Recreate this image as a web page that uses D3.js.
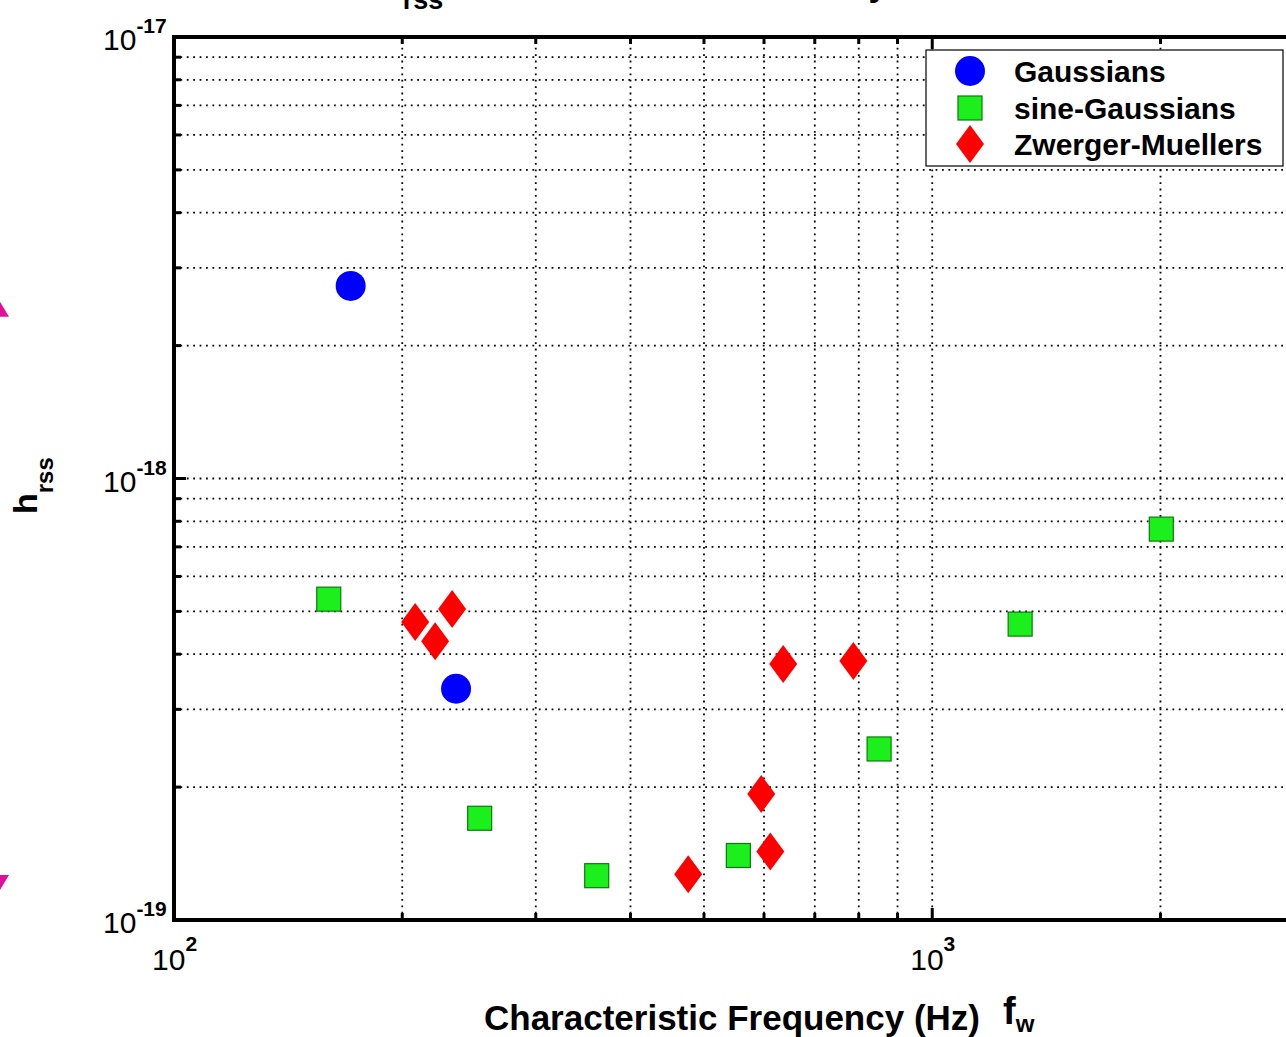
<!DOCTYPE html>
<html>
<head>
<meta charset="utf-8">
<script src="https://cdn.jsdelivr.net/npm/d3@7"></script>
<style>
  html, body { margin: 0; padding: 0; background: #fff; overflow: hidden; }
  text { font-family: "Liberation Sans", Arial, sans-serif; fill: #000; }
</style>
</head>
<body>
<div id="chart"></div>
<script>
// data (frequency in Hz, h_rss)
const gaussF = [171, 235.5];
const gaussH = [2.73e-18, 3.34e-19];

const sineF = [160, 253, 361, 555, 851, 1306, 2005];
const sineH = [5.33e-19, 1.70e-19, 1.26e-19, 1.40e-19, 2.44e-19, 4.68e-19, 7.68e-19];

const zmF = [208, 221, 232.7, 476.6, 595, 611.6, 636, 787];
const zmH = [4.73e-19, 4.28e-19, 5.06e-19, 1.27e-19, 1.93e-19, 1.43e-19, 3.80e-19, 3.86e-19];

const seriesNames = ['Gaussians', 'sine-Gaussians', 'Zwerger-Muellers'];
const xMajor = [100, 1000];
const yMajor = [1e-19, 1e-18, 1e-17];
const xLabels = [['10', '2'], ['10', '3']];
const yLabels = [['10', '-19'], ['10', '-18'], ['10', '-17']];

const width = 1286, height = 1037;
const margin = {top: 37, left: 174, bottom: 117};

const svg = d3.select('#chart').append('svg')
    .attr('width', width)
    .attr('height', height);

let x = d3.scaleLog()
    .domain([100, 3000])
    .range([margin.left, 1294]);

let y = d3.scaleLog()
    .domain([1e-19, 1e-17])
    .range([height - margin.bottom, margin.top]);

const x0 = x.range()[0], x1 = x.range()[1];
const y0 = y.range()[0], y1 = y.range()[1];

// minor + major positions
let xAll = [];
for (let d = 100; d <= 3000; d *= 10) {
  for (let k = 1; k <= 9; k++) if (d * k <= 3000) xAll.push(d * k);
}
let yAll = [];
for (let d = 1e-19; d < 1e-17 * 1.01; d *= 10) {
  for (let k = 1; k <= 9; k++) if (d * k <= 1e-17 * 1.01) yAll.push(d * k);
}
const isMajorX = v => xMajor.some(m => Math.abs(v - m) < 1e-6);
const isMajorY = v => yMajor.some(m => Math.abs(v / m - 1) < 1e-6);

// dotted grid
const grid = svg.append('g')
    .attr('stroke', '#000')
    .attr('stroke-width', 1.8)
    .attr('stroke-dasharray', '1.8,4.6');

grid.selectAll('line.gx')
  .data(xAll.filter(v => v > 100))
  .enter().append('line')
    .attr('class', 'gx')
    .attr('x1', d => x(d)).attr('x2', d => x(d))
    .attr('y1', y0).attr('y2', y1);

grid.selectAll('line.gy')
  .data(yAll.filter(v => v > 1.01e-19 && v < 0.99e-17))
  .enter().append('line')
    .attr('class', 'gy')
    .attr('x1', x0).attr('x2', x1)
    .attr('y1', d => y(d)).attr('y2', d => y(d));

// tick marks pointing inward
const ticks = svg.append('g').attr('stroke', '#000').attr('stroke-width', 3);
ticks.selectAll('line.tb')
  .data(xAll)
  .enter().append('line')
    .attr('x1', d => x(d)).attr('x2', d => x(d))
    .attr('y1', y0).attr('y2', d => y0 - (isMajorX(d) ? 12 : 7));
ticks.selectAll('line.tt')
  .data(xAll)
  .enter().append('line')
    .attr('x1', d => x(d)).attr('x2', d => x(d))
    .attr('y1', y1).attr('y2', d => y1 + (isMajorX(d) ? 12 : 7));
ticks.selectAll('line.tl')
  .data(yAll)
  .enter().append('line')
    .attr('y1', d => y(d)).attr('y2', d => y(d))
    .attr('x1', x0).attr('x2', d => x0 + (isMajorY(d) ? 12 : 7));

// axes box
svg.append('path')
    .attr('d', `M${x1},${y1}H${x0}V${y0}H${x1}`)
    .attr('fill', 'none')
    .attr('stroke', '#000')
    .attr('stroke-width', 4);

// tick labels
svg.selectAll('text.xl')
  .data(xMajor)
  .enter().append('text')
    .attr('x', d => x(d) - 22)
    .attr('y', y0 + 50)
    .style('font-size', '30px')
    .each(function(d, i) {
      const t = d3.select(this);
      t.append('tspan').text(xLabels[i][0]);
      t.append('tspan').attr('dy', -19).style('font-size', '21px').style('font-weight', 'bold').text(xLabels[i][1]);
    });

svg.selectAll('text.yl')
  .data(yMajor)
  .enter().append('text')
    .attr('x', 103)
    .attr('y', d => y(d) + 13)
    .style('font-size', '30px')
    .each(function(d, i) {
      const t = d3.select(this);
      t.append('tspan').text(yLabels[i][0]);
      t.append('tspan').attr('dy', -17).style('font-size', '21px').style('font-weight', 'bold').text(yLabels[i][1]);
    });

// axis titles
svg.append('text')
    .attr('x', 484)
    .attr('y', 1030)
    .style('font-size', '35px')
    .style('font-weight', 'bold')
    .text('Characteristic Frequency (Hz)');

svg.append('text')
    .attr('x', 1003)
    .attr('y', 1024)
    .style('font-size', '38px')
    .style('font-weight', 'bold')
    .call(t => {
      t.append('tspan').text('f');
      t.append('tspan').attr('dy', 8).style('font-size', '24px').text('w');
    });

svg.append('text')
    .attr('transform', 'translate(37,514) rotate(-90)')
    .style('font-size', '34px')
    .style('font-weight', 'bold')
    .call(t => {
      t.append('tspan').text('h');
      t.append('tspan').attr('dy', 16).style('font-size', '24px').text('rss');
    });

// title, mostly above the visible area
svg.append('text')
    .attr('x', 382)
    .attr('y', -4)
    .style('font-size', '34px')
    .style('font-weight', 'bold')
    .call(t => {
      t.append('tspan').text('h');
      t.append('tspan').attr('dy', 13).style('font-size', '27px').text('rss');
      t.append('tspan').attr('dy', -13).text(' at 50% detection efficiency');
    });

// markers
const diamond = 'M0,-19L14,0L0,19L-14,0Z';

svg.append('g').selectAll('rect')
  .data(d3.zip(sineF, sineH))
  .enter().append('rect')
    .attr('x', d => x(d[0]) - 12)
    .attr('y', d => y(d[1]) - 12)
    .attr('width', 24).attr('height', 24)
    .attr('fill', '#1cf01c')
    .attr('stroke', '#0a7a0a')
    .attr('stroke-width', 1.2);

svg.append('g').selectAll('path')
  .data(d3.zip(zmF, zmH))
  .enter().append('path')
    .attr('transform', d => `translate(${x(d[0])},${y(d[1])})`)
    .attr('d', diamond)
    .attr('fill', '#ff0000');

svg.append('g').selectAll('circle')
  .data(d3.zip(gaussF, gaussH))
  .enter().append('circle')
    .attr('cx', d => x(d[0]))
    .attr('cy', d => y(d[1]))
    .attr('r', 15)
    .attr('fill', '#0000ff');

// legend
const lg = svg.append('g').attr('transform', 'translate(926,50)');
lg.append('rect')
    .attr('width', 357).attr('height', 116)
    .attr('fill', '#fff')
    .attr('stroke', '#000')
    .attr('stroke-width', 1.2);
const rowY = [21, 58, 94];
lg.append('circle').attr('cx', 44).attr('cy', rowY[0]).attr('r', 15).attr('fill', '#0000ff');
lg.append('rect').attr('x', 32).attr('y', rowY[1] - 12).attr('width', 24).attr('height', 24)
    .attr('fill', '#1cf01c').attr('stroke', '#0a7a0a').attr('stroke-width', 1.2);
lg.append('path').attr('transform', `translate(44,${rowY[2]})`).attr('d', diamond).attr('fill', '#ff0000');
lg.selectAll('text')
  .data(seriesNames)
  .enter().append('text')
    .attr('x', 88)
    .attr('y', (d, i) => rowY[i] + 11)
    .style('font-size', '30px')
    .style('font-weight', 'bold')
    .text(d => d);

// magenta arrow heads cut by the left edge
svg.append('path')
    .attr('d', `M-3,${y(2.45e-18) - 10}L9,${y(2.45e-18) + 10}L-15,${y(2.45e-18) + 10}Z`)
    .attr('fill', '#e0109c');
svg.append('path')
    .attr('d', `M-15,${y(1.2e-19) - 10}L9,${y(1.2e-19) - 10}L-3,${y(1.2e-19) + 10}Z`)
    .attr('fill', '#e0109c');
</script>
</body>
</html>
